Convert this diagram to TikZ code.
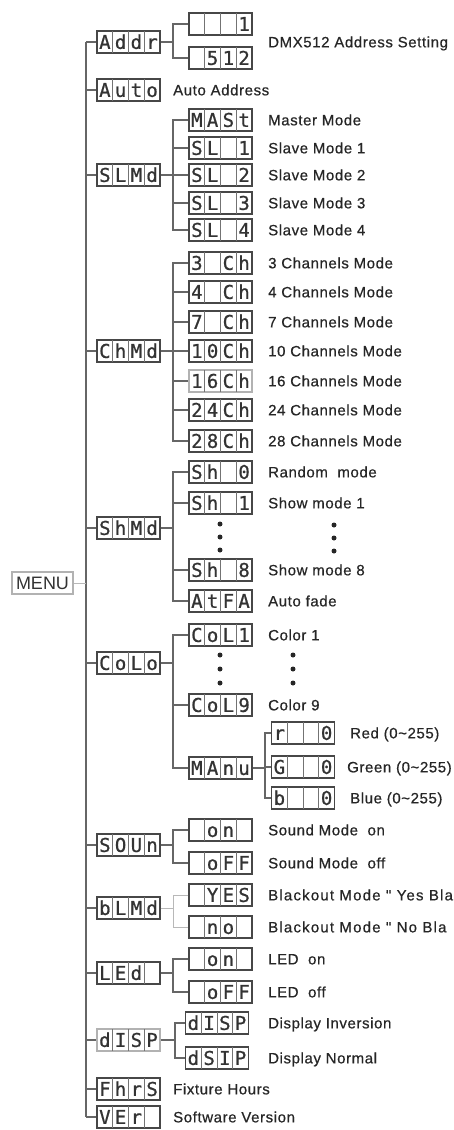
\documentclass[tikz,border=0pt]{standalone}
\usepackage{fontspec}
\setmainfont{Liberation Sans}
\newfontfamily\lblfont[LetterSpace=4,FakeBold=0.6]{Liberation Sans}
\newfontfamily\widelblfont[LetterSpace=8,FakeBold=0.6]{Liberation Sans}
\newfontfamily\segfont[FakeBold=0.8]{DejaVu Sans Mono}
\newcommand\dsp[8]{%
  \node[#1] (#2) at (#3,#4) {};
  \draw[cellsep] (#3-15.75,#4-11) -- (#3-15.75,#4+11);
  \draw[cellsep] (#3,#4-11) -- (#3,#4+11);
  \draw[cellsep] (#3+15.75,#4-11) -- (#3+15.75,#4+11);
  \node[segtxt] (#2-a) at (#3-23.6,#4) {#5};
  \node[segtxt] (#2-b) at (#3-7.9,#4) {#6};
  \node[segtxt] (#2-c) at (#3+7.9,#4) {#7};
  \node[segtxt] (#2-d) at (#3+23.6,#4) {#8};
}
\tikzset{
  disp/.style={draw=black!72, line width=1.2pt, fill=white, minimum width=63pt, minimum height=22pt, inner sep=0pt},
  ldisp/.style={disp, draw=black!30},
  cellsep/.style={draw=black!55, line width=0.7pt},
  segtxt/.style={font=\segfont\fontsize{19}{19}\selectfont, text=black!80, inner sep=0pt, text height=13.8pt, text depth=0pt},
  conn/.style={draw=black!60, line width=1.1pt},
  lconn/.style={draw=black!28, line width=1pt},
  lbl/.style={anchor=west, font=\lblfont\fontsize{15}{17}\selectfont, text=black!85, inner sep=0pt, text height=10.7pt, text depth=0pt},
  widelbl/.style={lbl, font=\widelblfont\fontsize{15}{17}\selectfont},
  dotn/.style={circle, fill=black!85, minimum size=5pt, inner sep=0pt},
  menubox/.style={draw=black!30, line width=1.1pt, minimum width=61pt, minimum height=22pt, inner sep=0pt, font=\fontsize{18}{18}\selectfont, text=black!80}
}
\begin{document}
\begin{tikzpicture}[x=1pt,y=-1pt]
\useasboundingbox (0,0) rectangle (453,1130);
\coordinate (trunk) at (86,0);
\coordinate (brA) at (173,0);
\coordinate (brM) at (265,0);
\coordinate (brD) at (175,0);

% MENU
\node[menubox] (menu) at (42.5,583) {MENU};

% main column
\dsp{disp}{addr}{128.5}{42}{A}{d}{d}{r}
\dsp{disp}{auto}{128.5}{90}{A}{u}{t}{o}
\dsp{disp}{slmd}{128.5}{175}{S}{L}{M}{d}
\dsp{disp}{chmd}{128.5}{351}{C}{h}{M}{d}
\dsp{disp}{shmd}{128.5}{528}{S}{h}{M}{d}
\dsp{disp}{colo}{128.5}{663}{C}{o}{L}{o}
\dsp{disp}{soun}{128.5}{845}{S}{O}{U}{n}
\dsp{disp}{blmd}{128.5}{908}{b}{L}{M}{d}
\dsp{disp}{led}{128.5}{973}{L}{E}{d}{}
\dsp{ldisp}{disp}{128.5}{1040}{d}{I}{S}{P}
\dsp{disp}{fhrs}{128.5}{1089}{F}{h}{r}{S}
\dsp{disp}{ver}{128.5}{1117}{V}{E}{r}{}

% trunk
\draw[conn] (addr.west -| trunk) -- (ver.west -| trunk);
\draw[lconn] (menu.east) -- (menu.east -| trunk);
\foreach \n in {addr,auto,slmd,chmd,shmd,colo,soun,blmd,led,disp,fhrs,ver}
  \draw[conn] (\n.west -| trunk) -- (\n.west);

% Addr
\dsp{disp}{a1}{220.5}{24}{}{}{}{1}
\dsp{disp}{a2}{220.5}{58}{}{5}{1}{2}
\draw[conn] (addr.east) -- (addr.east -| brA);
\draw[conn] (a1.west) -| (brA |- a2.west) -- (a2.west);
\node[lbl] (la) at (268,42) {DMX512 Address Setting};
\node[lbl] (lauto) at (173,90) {Auto Address};

% SLMd
\dsp{disp}{s0}{220.5}{120}{M}{A}{S}{t}
\dsp{disp}{s1}{220.5}{148}{S}{L}{}{1}
\dsp{disp}{s2}{220.5}{175}{S}{L}{}{2}
\dsp{disp}{s3}{220.5}{203}{S}{L}{}{3}
\dsp{disp}{s4}{220.5}{230}{S}{L}{}{4}
\draw[conn] (slmd.east) -- (slmd.east -| brA);
\draw[conn] (s0.west) -| (brA |- s4.west) -- (s4.west);
\foreach \n in {s1,s2,s3} \draw[conn] (\n.west -| brA) -- (\n.west);
\node[lbl] (ls0) at (268,120) {Master Mode};
\node[lbl] (ls1) at (268,148) {Slave Mode 1};
\node[lbl] (ls2) at (268,175) {Slave Mode 2};
\node[lbl] (ls3) at (268,203) {Slave Mode 3};
\node[lbl] (ls4) at (268,230) {Slave Mode 4};

% ChMd
\dsp{disp}{c3}{220.5}{263}{3}{}{C}{h}
\dsp{disp}{c4}{220.5}{292}{4}{}{C}{h}
\dsp{disp}{c7}{220.5}{322}{7}{}{C}{h}
\dsp{disp}{c10}{220.5}{351}{1}{0}{C}{h}
\dsp{ldisp}{c16}{220.5}{381}{1}{6}{C}{h}
\dsp{disp}{c24}{220.5}{410}{2}{4}{C}{h}
\dsp{disp}{c28}{220.5}{441}{2}{8}{C}{h}
\draw[conn] (chmd.east) -- (chmd.east -| brA);
\draw[conn] (c3.west) -| (brA |- c28.west) -- (c28.west);
\foreach \n in {c4,c7,c10,c16,c24} \draw[conn] (\n.west -| brA) -- (\n.west);
\node[lbl] (lc3) at (268,263) {3 Channels Mode};
\node[lbl] (lc4) at (268,292) {4 Channels Mode};
\node[lbl] (lc7) at (268,322) {7 Channels Mode};
\node[lbl] (lc10) at (268,351) {10 Channels Mode};
\node[lbl] (lc16) at (268,381) {16 Channels Mode};
\node[lbl] (lc24) at (268,410) {24 Channels Mode};
\node[lbl] (lc28) at (268,441) {28 Channels Mode};

% ShMd
\dsp{disp}{h0}{220.5}{472}{S}{h}{}{0}
\dsp{disp}{h1}{220.5}{503}{S}{h}{}{1}
\dsp{disp}{h8}{220.5}{570}{S}{h}{}{8}
\dsp{disp}{hf}{220.5}{601}{A}{t}{F}{A}
\draw[conn] (shmd.east) -- (shmd.east -| brA);
\draw[conn] (h0.west) -| (brA |- hf.west) -- (hf.west);
\foreach \n in {h1,h8} \draw[conn] (\n.west -| brA) -- (\n.west);
\node[dotn] (hd1) at (220,524) {};
\node[dotn] (hd2) at (220,537) {};
\node[dotn] (hd3) at (220,550) {};
\node[dotn] (hd4) at (334,525) {};
\node[dotn] (hd5) at (334,538) {};
\node[dotn] (hd6) at (334,551) {};
\node[lbl] (lh0) at (268,472) {Random\ \ mode};
\node[lbl] (lh1) at (268,503) {Show mode 1};
\node[lbl] (lh8) at (268,570) {Show mode 8};
\node[lbl] (lhf) at (268,601) {Auto fade};

% CoLo
\dsp{disp}{k1}{220.5}{635}{C}{o}{L}{1}
\dsp{disp}{k9}{220.5}{705}{C}{o}{L}{9}
\dsp{disp}{manu}{220.5}{768}{M}{A}{n}{u}
\draw[conn] (colo.east) -- (colo.east -| brA);
\draw[conn] (k1.west) -| (brA |- manu.west) -- (manu.west);
\draw[conn] (k9.west -| brA) -- (k9.west);
\node[dotn] (kd1) at (220,655) {};
\node[dotn] (kd2) at (220,669) {};
\node[dotn] (kd3) at (220,683) {};
\node[dotn] (kd4) at (293,655) {};
\node[dotn] (kd5) at (293,669) {};
\node[dotn] (kd6) at (293,683) {};
\node[lbl] (lk1) at (268,635) {Color 1};
\node[lbl] (lk9) at (268,705) {Color 9};

% Manual
\dsp{disp}{mr}{303}{733}{r}{}{}{0}
\dsp{disp}{mg}{303}{767}{G}{}{}{0}
\dsp{disp}{mb}{303}{798}{b}{}{}{0}
\draw[conn] (manu.east) -- (manu.east -| brM);
\draw[conn] (mr.west) -| (brM |- mb.west) -- (mb.west);
\draw[conn] (mg.west -| brM) -- (mg.west);
\node[lbl] (lmr) at (350,733) {Red (0\textasciitilde255)};
\node[lbl] (lmg) at (347,767) {Green (0\textasciitilde255)};
\node[lbl] (lmb) at (350,798) {Blue (0\textasciitilde255)};

% SOUn
\dsp{disp}{son}{220.5}{830}{}{o}{n}{}
\dsp{disp}{sof}{220.5}{863}{}{o}{F}{F}
\draw[conn] (soun.east) -- (soun.east -| brA);
\draw[conn] (son.west) -| (brA |- sof.west) -- (sof.west);
\node[lbl] (lson) at (268,830) {Sound Mode\ \ on};
\node[lbl] (lsof) at (268,863) {Sound Mode\ \ off};

% bLMd
\dsp{disp}{byes}{220.5}{895}{}{Y}{E}{S}
\dsp{disp}{bno}{220.5}{927}{}{n}{o}{}
\draw[lconn] (blmd.east) -- (blmd.east -| brA);
\draw[lconn] (byes.west) -| (brA |- bno.west) -- (bno.west);
\node[widelbl] (lbyes) at (268,895) {Blackout Mode " Yes Bla};
\node[widelbl] (lbno) at (268,927) {Blackout Mode " No Bla};

% LEd
\dsp{disp}{lon}{220.5}{959}{}{o}{n}{}
\dsp{disp}{lof}{220.5}{992}{}{o}{F}{F}
\draw[conn] (led.east) -- (led.east -| brA);
\draw[conn] (lon.west) -| (brA |- lof.west) -- (lof.west);
\node[lbl] (llon) at (268,959) {LED\ \ on};
\node[lbl] (llof) at (268,992) {LED\ \ off};

% diSP
\dsp{disp}{dinv}{217}{1023}{d}{I}{S}{P}
\dsp{disp}{dnor}{217}{1058}{d}{S}{I}{P}
\draw[conn] (disp.east) -- (disp.east -| brD);
\draw[conn] (dinv.west) -| (brD |- dnor.west) -- (dnor.west);
\node[lbl] (ldinv) at (268,1023) {Display Inversion};
\node[lbl] (ldnor) at (268,1058) {Display Normal};

\node[lbl] (lfhrs) at (173,1089) {Fixture Hours};
\node[lbl] (lver) at (173,1117) {Software Version};
\end{tikzpicture}
\end{document}
